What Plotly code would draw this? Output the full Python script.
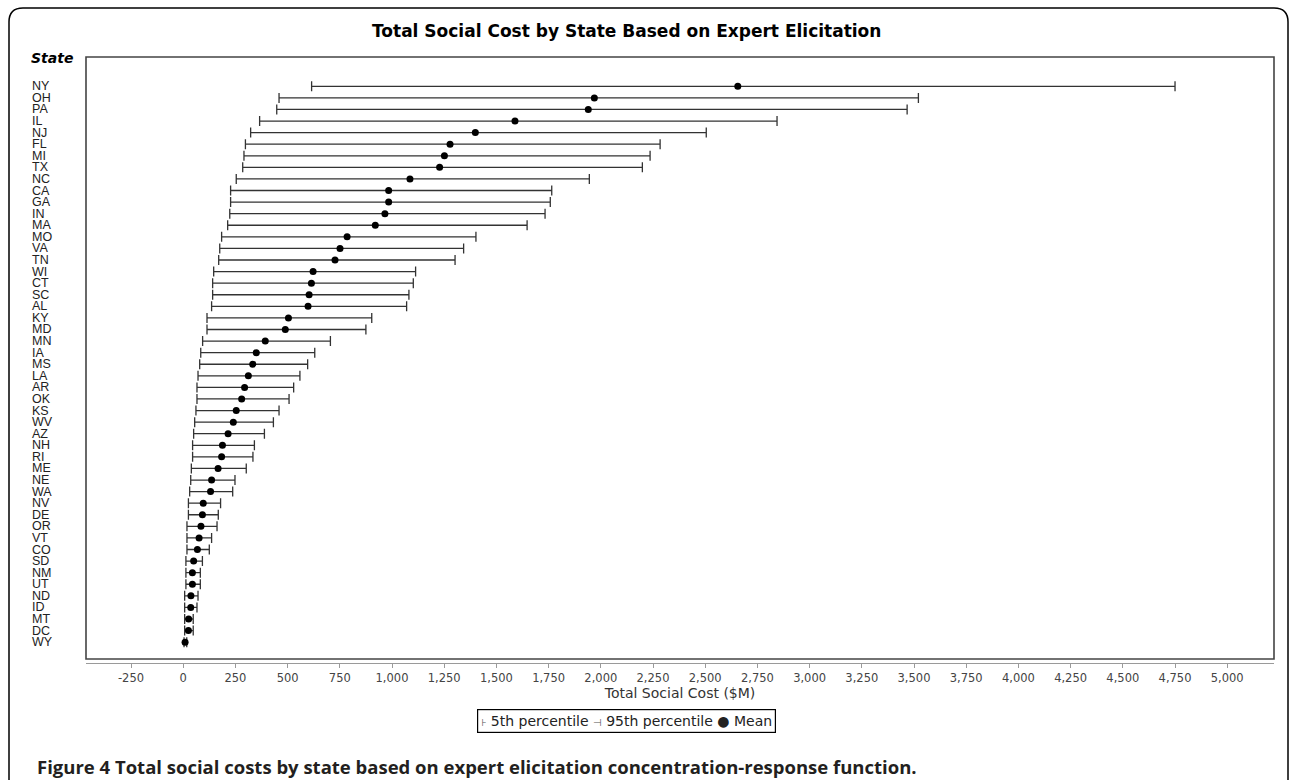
import plotly.graph_objects as go

# State-level total social cost ($M): 5th percentile, mean, 95th percentile
STATES = ["NY", "OH", "PA", "IL", "NJ", "FL", "MI", "TX", "NC", "CA",
          "GA", "IN", "MA", "MO", "VA", "TN", "WI", "CT", "SC", "AL",
          "KY", "MD", "MN", "IA", "MS", "LA", "AR", "OK", "KS", "WV",
          "AZ", "NH", "RI", "ME", "NE", "WA", "NV", "DE", "OR", "VT",
          "CO", "SD", "NM", "UT", "ND", "ID", "MT", "DC", "WY"]
P5 = [615, 459, 448, 366, 323, 298, 291, 285, 254, 227,
      227, 223, 213, 184, 175, 170, 146, 141, 141, 136,
      114, 114, 93, 84, 79, 71, 66, 66, 61, 55,
      50, 45, 45, 39, 36, 31, 25, 25, 18, 18,
      18, 13, 13, 13, 7, 7, 7, 7, 4]
MEAN = [2656, 1969, 1940, 1589, 1399, 1278, 1251, 1228, 1086, 984,
        984, 966, 920, 785, 751, 727, 622, 614, 603, 598,
        504, 489, 393, 350, 333, 312, 294, 280, 254, 240,
        215, 188, 184, 167, 136, 131, 96, 92, 85, 76,
        68, 50, 44, 44, 37, 36, 26, 25, 9]
P95 = [4750, 3521, 3467, 2844, 2505, 2284, 2236, 2199, 1945, 1765,
       1758, 1733, 1647, 1402, 1343, 1302, 1113, 1102, 1081, 1070,
       903, 875, 705, 630, 596, 559, 529, 507, 459, 432,
       389, 341, 334, 302, 248, 237, 179, 168, 162, 136,
       125, 92, 82, 82, 71, 66, 48, 48, 17]

X_TICK_LABELS = ["-250", "0", "250", "500", "750", "1,000", "1,250", "1,500",
                 "1,750", "2,000", "2,250", "2,500", "2,750", "3,000", "3,250",
                 "3,500", "3,750", "4,000", "4,250", "4,500", "4,750", "5,000"]
X_TICK_VALUES = [int(t.replace(",", "")) for t in X_TICK_LABELS]

W, H = 1290, 780
L, R, T, B = 86, 1274, 57, 663  # plot area in pixels
CENTER_X = 626.5                # horizontal centre of the chart panel


def px(x):
    return (x - L) / (R - L)


def py(y):
    return (B - y) / (B - T)


CHART_FONT = "DejaVu Sans, Verdana, sans-serif"
LABEL_FONT = "Liberation Sans, Arial, sans-serif"

fig = go.Figure()
fig.add_trace(go.Scatter(
    x=MEAN, y=STATES, mode="markers",
    marker=dict(color="black", size=7, symbol="circle"),
    error_x=dict(type="data", symmetric=False,
                 array=[h - m for h, m in zip(P95, MEAN)],
                 arrayminus=[m - l for m, l in zip(MEAN, P5)],
                 color="#333333", thickness=1.3, width=5),
    showlegend=False, hoverinfo="skip",
))

annotations = []
# state labels, left-aligned outside the frame
for s in STATES:
    annotations.append(dict(
        x=px(29.5), xref="paper", y=s, yref="y", text=s, showarrow=False,
        xanchor="left", yanchor="middle",
        font=dict(family=LABEL_FONT, size=12.5, color="#222222")))

annotations += [
    dict(x=px(29), xref="paper", y=py(58), yref="paper", text="<b><i>State</i></b>",
         showarrow=False, xanchor="left", yanchor="middle",
         font=dict(family=CHART_FONT, size=14, color="black")),
    dict(x=px(CENTER_X), xref="paper", y=py(31), yref="paper",
         text="<b>Total Social Cost by State Based on Expert Elicitation</b>",
         showarrow=False, xanchor="center", yanchor="middle",
         font=dict(family=CHART_FONT, size=17, color="black")),
    dict(x=px(CENTER_X), xref="paper", y=py(721), yref="paper",
         text=("<span style='font-size:10px;color:#555'>⊦</span> 5th percentile "
               "<span style='font-size:10px;color:#555'>⊣</span> 95th percentile "
               "● Mean"),
         showarrow=False, xanchor="center", yanchor="middle",
         bordercolor="black", borderwidth=1.2, borderpad=3, bgcolor="white",
         font=dict(family=CHART_FONT, size=14, color="#222222")),
    dict(x=px(35), xref="paper", y=py(766), yref="paper",
         text="<b>Figure 4 Total social costs by state based on expert elicitation "
              "concentration-response function.</b>",
         showarrow=False, xanchor="left", yanchor="middle",
         font=dict(family="Open Sans, sans-serif", size=18.5, color="#231f20")),
]

shapes = [
    # plot frame
    dict(type="rect", xref="paper", yref="paper", x0=0, x1=1, y0=py(659), y1=1,
         line=dict(color="#444444", width=1.6)),
    # rounded outer panel border
    dict(type="path", xref="paper", yref="paper",
         path=(f"M {px(9)} {py(800)} L {px(9)} {py(22)} "
               f"Q {px(9)} {py(8)} {px(23)} {py(8)} "
               f"L {px(1274)} {py(8)} "
               f"Q {px(1288)} {py(8)} {px(1288)} {py(22)} "
               f"L {px(1288)} {py(800)}"),
         line=dict(color="black", width=1.5)),
]

fig.update_layout(
    width=W, height=H,
    margin=dict(l=L, r=W - R, t=T, b=H - B, pad=0),
    paper_bgcolor="white", plot_bgcolor="white",
    font=dict(family=CHART_FONT, color="#333333"),
    annotations=annotations, shapes=shapes,
    xaxis=dict(
        range=[-465.5, 5224], showgrid=False, zeroline=False,
        showline=True, linecolor="#9a9a9a", linewidth=1,
        ticks="outside", ticklen=4, tickcolor="#9a9a9a",
        tickvals=X_TICK_VALUES, ticktext=X_TICK_LABELS,
        tickfont=dict(family=CHART_FONT, size=11.5, color="#444444"),
        title=dict(text="Total Social Cost ($M)", standoff=4,
                   font=dict(family=CHART_FONT, size=14, color="#333333")),
        automargin=False,
    ),
    yaxis=dict(
        type="category", categoryorder="array", categoryarray=STATES,
        range=[49.8, -2.53], showgrid=False, zeroline=False,
        showline=False, showticklabels=False, ticks="", automargin=False,
    ),
)

fig.write_html("out.html")
